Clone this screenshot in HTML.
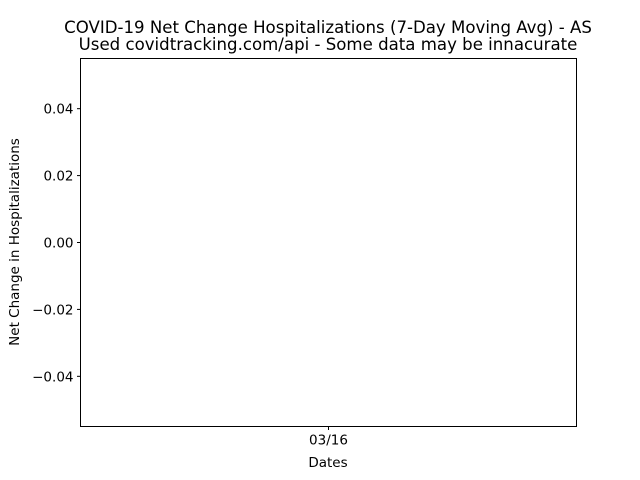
<!DOCTYPE html>
<html><head><meta charset="utf-8"><style>
html,body{margin:0;padding:0;background:#fff;}
svg{display:block;font-family:"DejaVu Sans","Liberation Sans",sans-serif;}
</style></head><body>
<svg id="chart" width="640" height="480" viewBox="0 0 640 480">
<rect x="0" y="0" width="640" height="480" fill="#fff"/>
<text x="328" y="33" text-anchor="middle" font-size="16.6">COVID-19 Net Change Hospitalizations (7-Day Moving Avg) - AS</text>
<text x="328" y="50" text-anchor="middle" font-size="16.6">Used covidtracking.com/api - Some data may be innacurate</text>
<g id="yticks"></g>
<g id="xticks"></g>
<g id="series"></g>
<rect x="80.5" y="58.5" width="496" height="368" fill="none" stroke="#000" stroke-width="1"/>
<text x="328" y="467" text-anchor="middle" font-size="13.5">Dates</text>
<text transform="translate(19,242) rotate(-90)" text-anchor="middle" font-size="13.5">Net Change in Hospitalizations</text>
</svg>
<script>
const categories = ["03/16"];
const values = [0];
const yTickValues = [0.04, 0.02, 0.00, -0.02, -0.04];
const yTickLabels = ["0.04", "0.02", "0.00", "\u22120.02", "\u22120.04"];

const NS = "http://www.w3.org/2000/svg";
const L = 80.5, R = 576.5, T = 58.5, B = 426.5;
const yMin = -0.055, yMax = 0.055;
function yScale(v){ return B - (v - yMin) / (yMax - yMin) * (B - T); }
function xScale(i){ return categories.length === 1 ? (L + R) / 2 : L + (R - L) * (0.05 + 0.9 * i / (categories.length - 1)); }

const yg = document.getElementById('yticks');
yTickValues.forEach((v, i) => {
  const y = yScale(v);
  const ln = document.createElementNS(NS, 'line');
  ln.setAttribute('x1', L - 3.5); ln.setAttribute('x2', L); ln.setAttribute('y1', y); ln.setAttribute('y2', y);
  ln.setAttribute('stroke', '#000');
  
  
  yg.appendChild(ln);
  const t = document.createElementNS(NS, 'text');
  t.setAttribute('x', L - 7); t.setAttribute('y', y + 5); t.setAttribute('text-anchor', 'end'); t.setAttribute('font-size', '13.5');
  t.textContent = yTickLabels[i];
  
  
  yg.appendChild(t);
});

const xg = document.getElementById('xticks');
categories.forEach((c, i) => {
  const x = xScale(i);
  const ln = document.createElementNS(NS, 'line');
  ln.setAttribute('x1', x); ln.setAttribute('x2', x); ln.setAttribute('y1', B); ln.setAttribute('y2', B + 3.5);
  ln.setAttribute('stroke', '#000');
  
  
  xg.appendChild(ln);
  const t = document.createElementNS(NS, 'text');
  t.setAttribute('x', x); t.setAttribute('y', B + 18); t.setAttribute('text-anchor', 'middle'); t.setAttribute('font-size', '13.5');
  t.textContent = c;
  
  
  xg.appendChild(t);
});

const sg = document.getElementById('series');
const pts = values.map((v, i) => xScale(i) + ',' + yScale(v)).join(' ');
const pl = document.createElementNS(NS, 'polyline');
pl.setAttribute('points', pts);
pl.setAttribute('fill', 'none');
pl.setAttribute('stroke', '#1f77b4');
pl.setAttribute('stroke-width', '1.5');


sg.appendChild(pl);
</script>
</body></html>
